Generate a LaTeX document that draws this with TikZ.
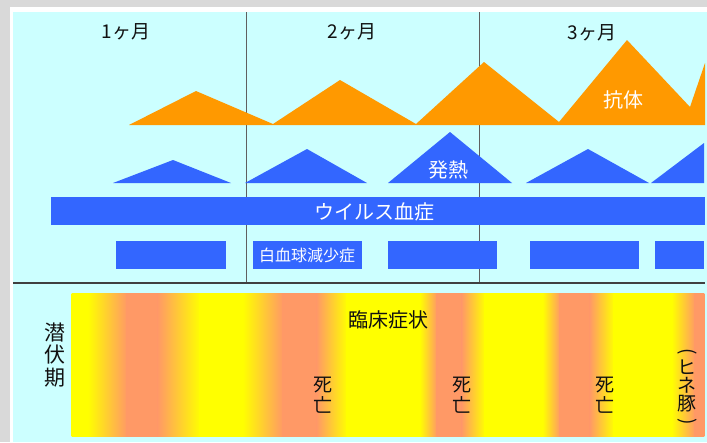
\documentclass[tikz,border=0pt]{standalone}
\usepackage{fontspec}
\newfontfamily\jp{Noto Sans CJK JP}
\definecolor{bggray}{HTML}{D9D9D9}
\definecolor{bgcyan}{HTML}{CCFFFF}
\definecolor{abor}{HTML}{FF9900}
\definecolor{feblue}{HTML}{3366FF}
\definecolor{yel}{HTML}{FFFF00}
\definecolor{sal}{HTML}{FF9966}
\definecolor{txtk}{HTML}{111111}
\tikzset{
  monthlbl/.style={font=\jp\fontsize{19}{19}\selectfont, text=txtk, inner sep=0pt},
  whitelbl/.style={font=\jp\fontsize{20}{20}\selectfont, text=white, inner sep=0pt},
  smallwhite/.style={font=\jp\fontsize{16}{16}\selectfont, text=white, inner sep=0pt},
  vertlbl/.style={font=\jp\fontsize{19}{20.5}\selectfont, text=txtk, inner sep=0pt, align=center},
  bluefill/.style={fill=feblue, draw=none},
  barbox/.style={fill=feblue, draw=none},
  monthline/.style={draw=gray!75!black, line width=1pt},
}
\begin{document}
\begin{tikzpicture}[x=1pt,y=-1pt]
\useasboundingbox (0,0) rectangle (707,442);
% backgrounds
\fill[bggray] (0,0) rectangle (707,442);
\fill[white] (10,7) rectangle (707,442);
\fill[bgcyan] (13,12) rectangle (707,442);
% month lines
\coordinate (m1t) at (246,12); \coordinate (m1b) at (246,282);
\coordinate (m2t) at (479,12); \coordinate (m2b) at (479,282);
\draw[monthline] (m1t) -- (m1b);
\draw[monthline] (m2t) -- (m2b);
% separator
\coordinate (sepl) at (13,282.5); \coordinate (sepr) at (705,282.5);
\draw[draw=black!75, line width=2pt] (sepl) -- (sepr);
% month labels
\node[monthlbl] (mon1) at (126,32) {1ヶ月};
\node[monthlbl] (mon2) at (352,32) {2ヶ月};
\node[monthlbl] (mon3) at (592,33) {3ヶ月};
% antibody
\fill[abor] (129,125) -- (196,91) -- (273,124) -- (340,80) -- (416,124) -- (484,62)
  -- (559,122) -- (627,40) -- (690,107) -- (705,63) -- (705,125) -- cycle;
\node[whitelbl] (ab) at (623,100) {抗体};
% fever triangles
\fill[bluefill] (113,183) -- (173,160) -- (231,183) -- cycle;
\fill[bluefill] (245,183) -- (307,149) -- (367,183) -- cycle;
\fill[bluefill] (388,183) -- (450,132) -- (512,183) -- cycle;
\fill[bluefill] (526,183) -- (588,149) -- (649,183) -- cycle;
\fill[bluefill] (651,183) -- (704,143) -- (704,183) -- cycle;
\node[whitelbl] (fever) at (448,169.5) {発熱};
% viremia bar
\fill[barbox] (51,197) rectangle (705,225);
\node[whitelbl] (vir) at (374.5,211.5) {ウイルス血症};
% leukopenia bars
\fill[barbox] (116,240.5) rectangle (226,269);
\fill[barbox] (252.5,240.5) rectangle (361.5,269);
\fill[barbox] (388,240.5) rectangle (497,269);
\fill[barbox] (530,240.5) rectangle (639,269);
\fill[barbox] (655,240.5) rectangle (704,269);
\node[smallwhite] (wbc) at (307,255) {白血球減少症};
% clinical gradient band
\foreach \xa/\ca/\xb/\cb in {72/yel/88/yel, 88/yel/127/sal, 127/sal/158/sal, 158/sal/200/yel,
  200/yel/243/yel, 243/yel/283/sal, 283/sal/317/sal, 317/sal/347/yel, 347/yel/420/yel,
  420/yel/437/sal, 437/sal/462/sal, 462/sal/485/yel, 485/yel/543/yel, 543/yel/560/sal,
  560/sal/590/sal, 590/sal/614/yel, 614/yel/672/yel, 672/yel/695/sal, 695/sal/704/sal}
  {\shade[left color=\ca, right color=\cb, shading angle=90] (\xa-0.3,293) rectangle (\xb+0.3,436.5);}
% texts in lower band
\node[font=\jp\fontsize{21}{22.5}\selectfont, text=txtk, inner sep=0pt, align=center] (senpuku) at (55,355) {潜\\伏\\期};
\node[font=\jp\fontsize{20}{20}\selectfont, text=txtk, inner sep=0pt] (rinsho) at (388,320) {臨床症状};
\node[vertlbl] (death1) at (323,395) {死\\亡};
\node[vertlbl] (death2) at (462,395) {死\\亡};
\node[vertlbl] (death3) at (605,395) {死\\亡};
\node[font=\jp\fontsize{19}{19}\selectfont, text=txtk, inner sep=0pt, align=center] (hine) at (687,388)
  {\rotatebox[origin=c]{-90}{(}\\[-2pt]ヒ\\[-1pt]ネ\\[-1pt]豚\\[-2pt]\rotatebox[origin=c]{-90}{)}};
\end{tikzpicture}
\end{document}
